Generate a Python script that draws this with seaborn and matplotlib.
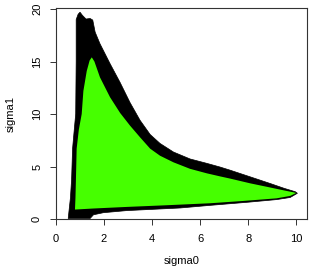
import numpy as np
import seaborn as sns
import matplotlib.pyplot as plt

# outer (black) region boundary, traced clockwise from bottom-left
outer_sigma0 = [0.51, 0.60, 0.65, 0.69, 0.76, 0.82, 0.84, 0.84, 0.92, 1.00, 1.10, 1.25,
                1.42, 1.53, 1.63, 1.83, 2.25, 2.67, 3.08, 3.50, 3.92, 4.33, 4.89, 5.58,
                6.28, 6.83, 7.25, 8.08, 8.92, 9.50, 9.96, 10.05,
                9.75, 9.19, 8.00, 6.42, 5.17, 2.94, 1.97, 1.56, 1.42, 0.51]
outer_sigma1 = [0.10, 2.0, 3.8, 6.7, 8.5, 10.0, 15.0, 19.0, 19.5, 19.7, 19.4, 19.05,
                19.1, 18.95, 17.8, 16.7, 14.8, 13.0, 11.1, 9.4, 8.05, 7.2, 6.38, 5.72,
                5.3, 4.95, 4.65, 4.02, 3.38, 2.92, 2.6, 2.45,
                2.05, 1.85, 1.6, 1.3, 1.05, 0.8, 0.6, 0.4, 0.05, 0.05]

# inner (green) region boundary
inner_sigma0 = [0.79, 0.81, 0.83, 0.86, 0.95, 1.07, 1.14, 1.28, 1.40, 1.49, 1.60, 1.83,
                2.25, 2.67, 3.08, 3.50, 3.92, 4.33, 4.89, 5.58, 6.28, 6.83, 7.25, 8.08,
                8.92, 9.50, 9.89, 10.0,
                9.75, 9.19, 7.80, 6.42, 4.50, 2.94, 1.56, 0.79]
inner_sigma1 = [0.9, 2.0, 3.8, 6.7, 8.5, 10.0, 12.2, 14.1, 15.1, 15.4, 15.0, 13.5,
                11.6, 10.1, 8.9, 7.78, 6.7, 6.03, 5.4, 4.78, 4.35, 4.06, 3.85, 3.4,
                3.0, 2.72, 2.54, 2.48,
                2.2, 1.97, 1.72, 1.5, 1.3, 1.15, 1.0, 0.9]


def main():
    sns.set_style("ticks")
    plt.rcParams["font.family"] = ["Liberation Sans", "DejaVu Sans"]
    fig = plt.figure(figsize=(3.13, 2.76), dpi=100)
    ax = fig.add_axes([56 / 313, 1 - 219 / 276, 251 / 313, 211 / 276])

    ax.fill(outer_sigma0, outer_sigma1, color="black", lw=0.5, ec="black")
    ax.fill(inner_sigma0, inner_sigma1, color="#46ff00", lw=0)

    ax.set_xlim(0, 10.45)
    ax.set_ylim(0, 20.1)
    ax.set_xticks(np.arange(0, 11, 2))
    ax.set_yticks(np.arange(0, 21, 5))
    ax.tick_params(axis="both", length=4, width=0.7, labelsize=8,
                   color="#333333", labelcolor="black")
    ax.tick_params(axis="x", pad=6.5)
    ax.tick_params(axis="y", pad=6)
    for lab in ax.get_yticklabels():
        lab.set_rotation(90)
        lab.set_va("center")
    for s in ax.spines.values():
        s.set_visible(True)
        s.set_linewidth(0.8)
        s.set_color("#333333")
    ax.set_xlabel("sigma0", fontsize=8, labelpad=9, color="black")
    ax.set_ylabel("sigma1", fontsize=8, labelpad=12, color="black")

    fig.savefig("out.png", dpi=100)
    plt.close()


if __name__ == "__main__":
    main()
